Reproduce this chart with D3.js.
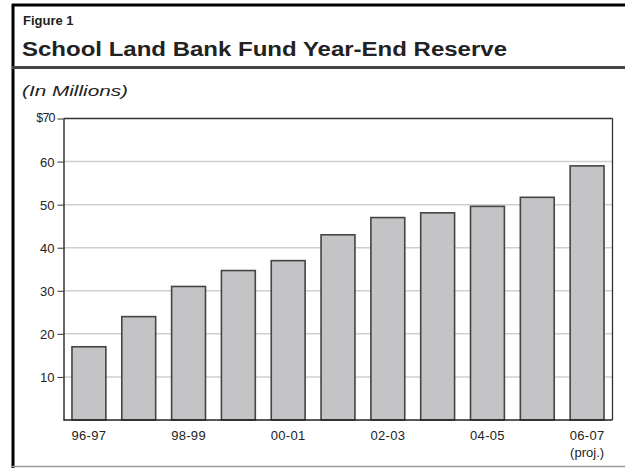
<!DOCTYPE html>
<html><head><meta charset="utf-8">
<script src="https://cdn.jsdelivr.net/npm/d3@7"></script>
<style>body{margin:0;background:#fff}svg{display:block}text{font-family:"Liberation Sans",Arial,sans-serif;fill:#222}</style>
</head><body>
<script>
const categories = ["96-97","97-98","98-99","99-00","00-01","01-02","02-03","03-04","04-05","05-06","06-07"];
const values = [17, 24, 31, 34.7, 37, 43, 47, 48.1, 49.6, 51.7, 59];
const shownLabels = ["96-97","98-99","00-01","02-03","04-05","06-07"];
const yTicks = [10,20,30,40,50,60,70];
const figureLabel = "Figure 1";
const title = "School Land Bank Fund Year-End Reserve";
const unitLabel = "(In Millions)";
const projNote = "(proj.)";

const W = 625, H = 468;
const svg = d3.select("body").append("svg").attr("width", W).attr("height", H);

// frame
svg.append("line").attr("x1",12).attr("x2",625).attr("y1",5).attr("y2",5).attr("stroke","#000").attr("stroke-width",3);
svg.append("line").attr("x1",13).attr("x2",13).attr("y1",4).attr("y2",468).attr("stroke","#000").attr("stroke-width",3);
svg.append("line").attr("x1",12).attr("x2",625).attr("y1",67.5).attr("y2",67.5).attr("stroke","#444").attr("stroke-width",3);
svg.append("line").attr("x1",12).attr("x2",625).attr("y1",466.5).attr("y2",466.5).attr("stroke","#999").attr("stroke-width",1.5);

svg.append("text").attr("x",23).attr("y",25).attr("font-size",13).attr("font-weight","bold").attr("fill","#2a2a2a").text(figureLabel);
svg.append("text").attr("x",22).attr("y",56).attr("font-size",20).attr("font-weight","bold").attr("fill","#2a2a2a")
  .attr("textLength",485).attr("lengthAdjust","spacingAndGlyphs").text(title);
svg.append("text").attr("x",22).attr("y",96).attr("font-size",15).attr("font-style","italic")
  .attr("textLength",106).attr("lengthAdjust","spacingAndGlyphs").text(unitLabel);

const m = {left:63.5, right:612.5, top:118.5, bottom:420};
const x = d3.scaleBand().domain(categories).range([m.left, m.right]).paddingInner(0.32).paddingOuter(0.17);
const y = d3.scaleLinear().domain([0,70]).range([m.bottom, m.top]);

// gridlines
svg.append("g").selectAll("line").data(yTicks.filter(d=>d<70)).join("line")
  .attr("x1",m.left).attr("x2",m.right).attr("y1",d=>y(d)).attr("y2",d=>y(d))
  .attr("stroke","#cfcfcf").attr("stroke-width",1.5);

// bars
svg.append("g").selectAll("rect").data(values).join("rect")
  .attr("x",(d,i)=>x(categories[i])).attr("width",x.bandwidth())
  .attr("y",d=>y(d)).attr("height",d=>y(0)-y(d))
  .attr("fill","#c4c4c6").attr("stroke","#444").attr("stroke-width",1.6);

// frame of plot
svg.append("line").attr("x1",m.left).attr("x2",m.right).attr("y1",m.top).attr("y2",m.top).attr("stroke","#333").attr("stroke-width",1.3);
svg.append("line").attr("x1",m.right).attr("x2",m.right).attr("y1",m.top).attr("y2",m.bottom).attr("stroke","#333").attr("stroke-width",1.3);

// y axis
const yAxis = d3.axisLeft(y).tickValues(yTicks).tickSize(6).tickSizeOuter(0).tickPadding(3)
  .tickFormat(d => d===70 ? "$70" : d);
const gy = svg.append("g").attr("transform",`translate(${m.left},0)`).call(yAxis);
gy.select(".domain").attr("stroke","#333").attr("stroke-width",1.5);
gy.selectAll(".tick line").attr("stroke","#333").attr("stroke-width",1);
gy.selectAll(".tick text").attr("font-size",13).attr("font-family","Liberation Sans, Arial, sans-serif").attr("fill","#222").attr("dy","0.35em");
gy.selectAll(".tick").filter(d=>d===70).select("text").attr("font-size",12.5).attr("letter-spacing","-0.9px").attr("dy","0.2em");

// x axis
const xAxis = d3.axisBottom(x).tickValues(shownLabels).tickSize(0).tickPadding(11);
const gx = svg.append("g").attr("transform",`translate(0,${m.bottom})`).call(xAxis);
gx.select(".domain").remove();
gx.selectAll(".tick text").attr("font-size",13).attr("font-family","Liberation Sans, Arial, sans-serif").attr("fill","#222").attr("letter-spacing","0.3px");
gx.selectAll(".tick").filter(d=>d==="06-07").append("text")
  .attr("y",28).attr("dy","0.71em").attr("text-anchor","middle").attr("font-size",13)
  .attr("font-family","Liberation Sans, Arial, sans-serif").attr("fill","#222").text(projNote);
// baseline
svg.append("line").attr("x1",m.left).attr("x2",m.right).attr("y1",m.bottom).attr("y2",m.bottom).attr("stroke","#222").attr("stroke-width",1.6);
</script>
</body></html>
